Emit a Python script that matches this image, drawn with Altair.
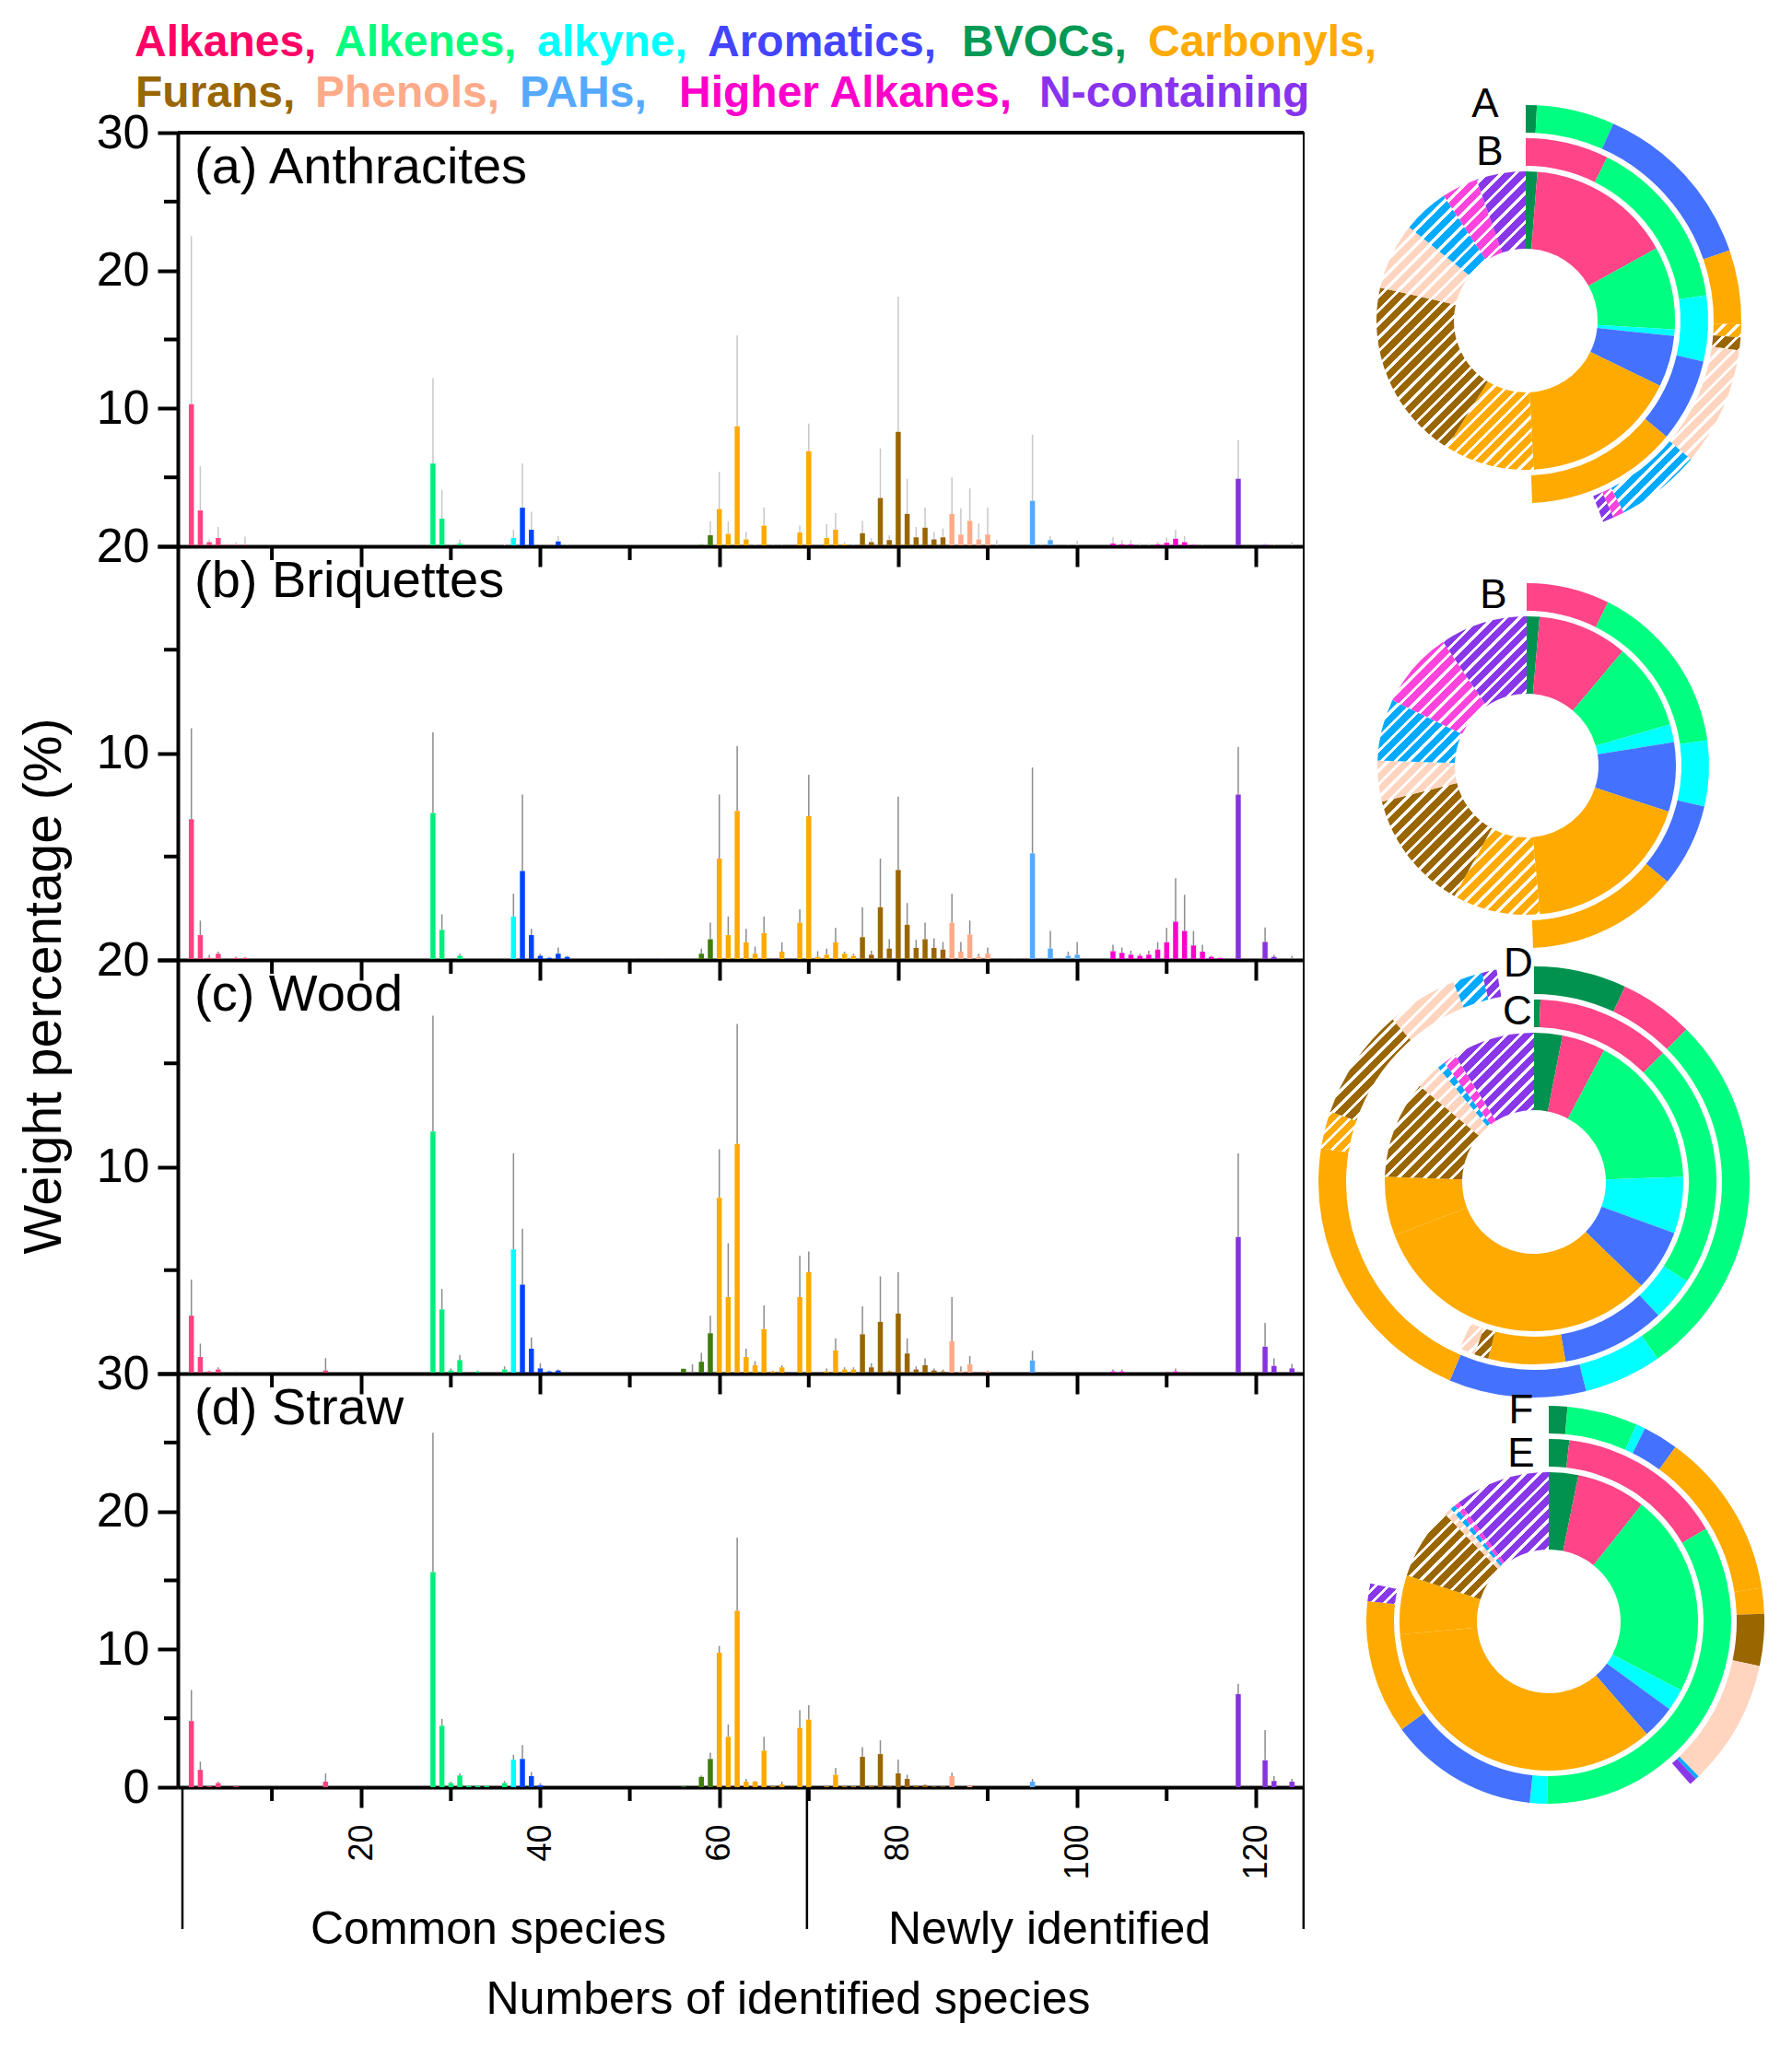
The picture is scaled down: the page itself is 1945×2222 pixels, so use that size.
import math

import altair as alt
import pandas as pd

# ---- compound classes -------------------------------------------------------
CATS = ["Alkanes", "Alkenes", "alkyne", "Aromatics", "BVOCs", "Carbonyls",
        "Furans", "Phenols", "PAHs", "Higher Alkanes", "N-containing"]
CAT_FIRST = [1, 28, 37, 38, 56, 60, 76, 86, 94, 104, 118]   # first species no. of each class
BAR_COLORS = ["#FF4282", "#00EE7A", "#00FFFF", "#0044FF", "#3E7D0E", "#FFAA00",
              "#996600", "#FFAA88", "#55AAFF", "#FF00CC", "#8833DD"]
PIE_COLORS = ["#FF4488", "#00FF80", "#00FFFF", "#4472FF", "#00924E", "#FFAA00",
              "#996600", "#FFD5C0", "#00AAFF", "#FF44DD", "#8838E8"]
KEY_WORDS = ["Alkanes,", "Alkenes,", "alkyne,", "Aromatics,", "BVOCs,", "Carbonyls,",
             "Furans,", "Phenols,", "PAHs,", "Higher Alkanes,", "N-containing"]
KEY_COLORS = ["#FF0066", "#00FF80", "#00FFFF", "#4444FF", "#009955", "#FFAA00",
              "#996600", "#FFAA88", "#55AAFF", "#FF00CC", "#8833EE"]
SECTIONS = [0, 69.8, 125.3]
SECTION_NAMES = ["Common species", "Newly identified"]
SECTION_LABEL_AT = [34.2, 96.9]

# ---- weight percentage per species: number, mean, sd -------------------------
A_IDX = [1, 2, 3, 4, 5, 6, 7,
         28, 29, 30, 31, 36, 37, 38, 39, 42, 43,
         58, 59, 60, 61, 62, 63, 64, 65, 66, 67, 69, 70, 72, 73, 74, 75,
         76, 77, 78, 79, 80, 81, 82, 83, 84, 85,
         86, 87, 88, 89, 90, 91,
         94, 95, 96, 97, 99, 100,
         104, 105, 106, 107, 108, 109, 110, 111, 112, 113, 114,
         118, 121, 122, 124]
A_MEAN = [10.3, 2.6, 0.3, 0.6, 0.1, 0.1, 0.1,
          6.0, 2.0, 0.05, 0.2, 0.05, 0.6, 2.8, 1.2, 0.35, 0.05,
          0.1, 0.8, 2.7, 0.9, 8.7, 0.5, 0.05, 1.5, 0.05, 0.05, 1.0, 6.9, 0.6, 1.2, 0.15, 0.05,
          0.95, 0.3, 3.5, 0.45, 8.3, 2.35, 0.65, 1.35, 0.5, 0.65,
          2.35, 0.85, 1.85, 0.5, 0.85, 0.02,
          0.05, 3.3, 0.02, 0.45, 0.02, 0.05,
          0.2, 0.15, 0.15, 0.05, 0.05, 0.15, 0.25, 0.55, 0.3, 0.1, 0.02,
          4.9, 0.1, 0.02, 0.02]
A_SD = [12.2, 3.2, 0.2, 0.8, 0.1, 0.2, 0.6,
        6.2, 2.1, 0.05, 0.3, 0.1, 0.6, 3.2, 1.3, 0.4, 0.05,
        0.1, 1.0, 2.7, 0.9, 6.6, 0.56, 0.1, 1.3, 0.05, 0.05, 0.5, 2.0, 1.0, 1.2, 0.15, 0.05,
        0.9, 0.3, 3.6, 0.35, 9.8, 2.55, 0.75, 1.45, 0.56, 0.65,
        2.65, 1.9, 2.35, 1.15, 1.95, 0.43,
        0.0, 4.8, 0.18, 0.3, 0.08, 0.35,
        0.45, 0.3, 0.3, 0.15, 0.15, 0.15, 0.4, 0.65, 0.45, 0.1, 0.08,
        2.8, 0.1, 0.08, 0.28]

B_IDX = [1, 2, 3, 4, 6, 7,
         28, 29, 31, 36, 37, 38, 39, 40, 41, 42, 43, 51, 53,
         58, 59, 60, 61, 62, 63, 64, 65, 66, 67, 69, 70, 71, 72, 73, 74, 75,
         76, 77, 78, 79, 80, 81, 82, 83, 84, 85,
         86, 87, 88, 89, 90, 91, 93,
         95, 96, 97, 99, 100,
         104, 105, 106, 107, 108, 109, 110, 111, 112, 113, 114, 115, 116, 117,
         118, 121, 122, 124]
B_MEAN = [6.8, 1.2, 0.1, 0.3, 0.1, 0.1,
          7.1, 1.45, 0.2, 0.05, 2.1, 4.3, 1.2, 0.2, 0.1, 0.3, 0.15, 0.05, 0.05,
          0.3, 1.0, 4.9, 1.2, 7.2, 0.85, 0.3, 1.3, 0.05, 0.4, 1.8, 6.95, 0.15, 0.25, 0.85, 0.3, 0.2,
          1.1, 0.25, 2.55, 0.55, 4.35, 1.7, 0.58, 1.0, 0.58, 0.5,
          1.8, 0.4, 1.23, 0.15, 0.3, 0.05, 0.05,
          5.15, 0.05, 0.55, 0.2, 0.25,
          0.42, 0.34, 0.25, 0.2, 0.25, 0.5, 0.85, 1.85, 1.4, 0.7, 0.4, 0.15, 0.1, 0.05,
          8.0, 0.87, 0.15, 0.05]
B_SD = [4.4, 0.7, 0.15, 0.1, 0.05, 0.05,
        3.9, 0.75, 0.1, 0.05, 1.1, 3.7, 0.3, 0.1, 0.05, 0.3, 0.05, 0.0, 0.0,
        0.25, 0.8, 3.1, 0.9, 3.15, 0.65, 0.35, 0.8, 0.0, 0.45, 0.65, 2.0, 0.27, 0.3, 0.7, 0.1, 0.1,
        1.45, 0.2, 2.35, 0.45, 3.55, 1.05, 0.39, 0.8, 0.47, 0.37,
        1.4, 0.47, 0.67, 0.15, 0.3, 0.0, 0.0,
        4.15, 0.05, 0.85, 0.2, 0.62,
        0.31, 0.26, 0.2, 0.1, 0.2, 0.37, 0.7, 2.1, 1.75, 0.7, 0.33, 0.05, 0.0, 0.0,
        2.3, 0.7, 0.1, 0.15]

C_IDX = [1, 2, 3, 4, 6, 16,
         28, 29, 30, 31, 32, 33, 34, 36, 37, 38, 39, 40, 41, 42,
         56, 57, 58, 59, 60, 61, 62, 63, 64, 65, 66, 67, 69, 70, 72, 73, 74, 75,
         76, 77, 78, 79, 80, 81, 82, 83, 84, 85,
         86, 87, 88, 89, 90,
         95, 97,
         104, 105, 110, 111, 112,
         118, 121, 122, 124]
C_MEAN = [2.8, 0.8, 0.1, 0.2, 0.05, 0.15,
          11.7, 3.1, 0.15, 0.65, 0.05, 0.1, 0.05, 0.2, 6.0, 4.3, 1.2, 0.25, 0.1, 0.15,
          0.23, 0.02, 0.57, 1.95, 8.5, 3.7, 11.1, 0.8, 0.4, 2.15, 0.1, 0.3, 3.7, 4.9, 0.1, 1.12, 0.2, 0.2,
          1.9, 0.3, 2.5, 0.1, 2.9, 0.97, 0.2, 0.4, 0.15, 0.1,
          1.57, 0.1, 0.45, 0.05, 0.1,
          0.63, 0.05,
          0.1, 0.1, 0.05, 0.1, 0.05,
          6.6, 1.3, 0.37, 0.25]
C_SD = [1.75, 0.65, 0.05, 0.1, 0.05, 0.6,
        5.6, 1.0, 0.1, 0.25, 0.0, 0.05, 0.0, 0.15, 4.65, 2.7, 0.55, 0.25, 0.05, 0.05,
        0.02, 0.43, 0.43, 0.85, 2.35, 2.6, 5.8, 0.4, 0.2, 1.15, 0.05, 0.1, 2.0, 1.0, 0.15, 0.58, 0.1, 0.1,
        1.35, 0.2, 2.2, 0.05, 2.0, 0.73, 0.15, 0.33, 0.1, 0.1,
        2.13, 0.25, 0.4, 0.0, 0.05,
        0.47, 0.05,
        0.1, 0.1, 0.05, 0.15, 0.05,
        4.05, 1.15, 0.36, 0.22]

D_IDX = [1, 2, 3, 4, 6, 16,
         28, 29, 30, 31, 32, 33, 34, 36, 37, 38, 39, 40,
         56, 58, 59, 60, 61, 62, 63, 64, 65, 66, 67, 69, 70, 72, 73, 74, 75,
         76, 77, 78, 79, 80, 81, 82, 83, 84, 85,
         86, 88,
         95,
         118, 121, 122, 124]
D_MEAN = [4.8, 1.26, 0.05, 0.3, 0.05, 0.4,
          15.6, 4.45, 0.3, 0.85, 0.1, 0.1, 0.1, 0.3, 2.0, 2.05, 0.8, 0.15,
          0.05, 0.75, 2.05, 9.75, 3.65, 12.8, 0.4, 0.4, 2.65, 0.05, 0.2, 4.3, 4.9, 0.05, 0.9, 0.05, 0.05,
          2.2, 0.1, 2.4, 0.05, 1.0, 0.6, 0.1, 0.15, 0.05, 0.05,
          0.8, 0.1,
          0.4,
          6.75, 1.95, 0.45, 0.4]
D_SD = [2.25, 0.59, 0.0, 0.1, 0.0, 0.6,
        10.1, 0.5, 0.1, 0.15, 0.0, 0.0, 0.0, 0.15, 0.35, 1.0, 0.3, 0.15,
        0.0, 0.1, 0.45, 0.5, 0.9, 5.3, 0.2, 0.05, 1.0, 0.0, 0.2, 1.3, 1.05, 0.0, 0.5, 0.0, 0.0,
        0.7, 0.0, 1.0, 0.0, 1.0, 0.3, 0.0, 0.05, 0.0, 0.0,
        0.25, 0.05,
        0.2,
        0.75, 2.2, 0.35, 0.2]

# ---- ring compositions (% of full circle), "new" = newly identified part ----
PA_CATS = ["BVOCs", "Alkanes", "Alkenes", "alkyne", "Aromatics", "Carbonyls", "Carbonyls",
           "Furans", "Phenols", "PAHs", "Higher Alkanes", "N-containing"]
PA_PCT = [1.25, 15.7, 9.0, 0.7, 5.55, 16.95, 9.7, 19.7, 7.2, 5.0, 3.9, 5.35]
PA_NEW = [0, 0, 0, 0, 0, 0, 1, 1, 1, 1, 1, 1]
RA_CATS = ["BVOCs", "Alkenes", "Aromatics", "Carbonyls", "Carbonyls", "Furans", "Phenols",
           "PAHs", "Higher Alkanes", "N-containing"]
RA_PCT = [0.83, 5.83, 13.06, 5.56, 0.97, 0.97, 8.89, 6.39, 0.83, 0.83]
RA_NEW = [0, 0, 0, 0, 1, 1, 1, 1, 1, 1]
RB_CATS = ["Alkanes", "Alkenes", "alkyne", "Aromatics", "Carbonyls"]
RB_PCT = [7.36, 15.42, 5.83, 7.36, 13.47]
RB_NEW = [0, 0, 0, 0, 0]
PB_CATS = PA_CATS
PB_PCT = [1.39, 9.72, 9.44, 1.94, 7.5, 18.61, 9.44, 13.06, 4.44, 6.67, 8.33, 9.46]
PB_NEW = PA_NEW
PC_CATS = PA_CATS
PC_PCT = [3.06, 4.72, 16.67, 6.11, 6.67, 31.94, 6.39, 10.56, 2.78, 0.83, 1.39, 8.88]
PC_NEW = [0, 0, 0, 0, 0, 0, 0, 1, 1, 1, 1, 1]
RC_CATS = ["BVOCs", "Alkanes", "Alkenes", "alkyne", "Aromatics", "Carbonyls", "Furans", "Phenols"]
RC_PCT = [0.56, 11.94, 21.67, 3.89, 9.17, 6.81, 1.25, 1.39]
RC_NEW = [0, 0, 0, 0, 0, 0, 1, 1]
RD_CATS = ["BVOCs", "Alkanes", "Alkenes", "alkyne", "Aromatics", "Carbonyls", "Carbonyls",
           "Furans", "Phenols", "PAHs", "N-containing"]
RD_PCT = [6.94, 5.56, 27.78, 5.83, 10.28, 21.11, 2.78, 8.33, 5.28, 2.22, 1.11]
RD_NEW = [0, 0, 0, 0, 0, 0, 1, 1, 1, 1, 1]
PD_CATS = PA_CATS
PD_PCT = [3.19, 7.5, 21.94, 2.36, 3.61, 35.0, 6.39, 7.78, 0.83, 0.56, 0.56, 10.28]
PD_NEW = PC_NEW
RE_CATS = ["BVOCs", "Alkanes", "Alkenes", "alkyne", "Aromatics", "Carbonyls", "N-containing"]
RE_PCT = [1.81, 14.72, 33.61, 1.53, 13.25, 11.86, 1.56]
RE_NEW = [0, 0, 0, 0, 0, 0, 1]
RF_CATS = ["BVOCs", "Alkenes", "alkyne", "Aromatics", "Carbonyls", "Carbonyls", "Furans",
           "Phenols", "PAHs", "N-containing"]
RF_PCT = [1.39, 5.28, 0.69, 2.64, 12.5, 1.94, 3.89, 9.44, 0.28, 0.56]
RF_NEW = [0] * 10

# ---- layout -------------------------------------------------------------------
W, H = 1222, 449
X_MAX = 124.8
FONT = "Liberation Sans"
R_IN, R_MID, R_OUT = (78, 162), (168, 198), (204, 234)
KEY_POS = [(-47, -83), (170, -83), (390, -83), (575, -83), (851, -83), (1053, -83),
           (-46, -28), (149, -28), (371, -28), (544, -28), (935, -28)]

THETA = alt.Scale(domain=[0, 100], range=[0, 2 * math.pi])
PIE_SCALE = alt.Scale(domain=CATS, range=PIE_COLORS)
BAR_SCALE = alt.Scale(domain=CATS, range=BAR_COLORS)
XSCALE = alt.Scale(domain=[0, X_MAX], nice=False, zero=False)


def cat_of(i):
    k = 0
    for j, first in enumerate(CAT_FIRST):
        if i >= first:
            k = j
    return CATS[k]


def ring_rows(cats, pct, new):
    rows, t = [], 0.0
    for c, p, n in zip(cats, pct, new):
        rows.append({"cat": c, "t0": t, "t1": t + p, "new": n})
        t += p
    return rows


def arc_box(t0, t1, r0, r1):
    """Pixel bounding box of an annular sector (for the hatch gradient)."""
    a0, a1 = t0 / 50 * math.pi, t1 / 50 * math.pi
    xs, ys = [], []
    for k in range(181):
        a = a0 + (a1 - a0) * k / 180
        for r in (r0, r1):
            xs.append(r * math.sin(a))
            ys.append(-r * math.cos(a))
    return max(max(xs) - min(xs), 1.0), max(max(ys) - min(ys), 1.0)


def hatch(color, w, h, period=10.6, gap=0.3):
    """Diagonal white stripes as a hard-stop linear gradient."""
    n = max(1, round((w + h) / (math.sqrt(2) * period)))
    k = (w + h) / (w * w + h * h)
    stops = []
    for j in range(n):
        a, b, c = j / n, (j + 1 - gap) / n, (j + 1) / n
        stops += [{"offset": round(a, 5), "color": color}, {"offset": round(b, 5), "color": color},
                  {"offset": round(b, 5), "color": "#ffffff"}, {"offset": round(c, 5), "color": "#ffffff"}]
    return {"gradient": "linear", "x1": 0, "y1": 0, "x2": w * k, "y2": h * k, "stops": stops}


def pie(rings, cx, cy, tags):
    layers = []
    for rows, (r0, r1) in rings:
        solid = pd.DataFrame([r for r in rows if not r["new"]])
        layers.append(alt.Chart(solid).mark_arc(radius=r1, radius2=r0).encode(
            theta=alt.Theta("t0:Q", scale=THETA, stack=False), theta2=alt.Theta2("t1"),
            fill=alt.Fill("cat:N", scale=PIE_SCALE, legend=None),
            x=alt.value(cx), y=alt.value(cy)))
        for r in rows:
            if not r["new"]:
                continue
            w, h = arc_box(r["t0"], r["t1"], r0, r1)
            color = PIE_COLORS[CATS.index(r["cat"])]
            layers.append(alt.Chart(pd.DataFrame([r])).mark_arc(
                radius=r1, radius2=r0, fill=hatch(color, w, h)).encode(
                theta=alt.Theta("t0:Q", scale=THETA, stack=False), theta2=alt.Theta2("t1"),
                x=alt.value(cx), y=alt.value(cy)))
    for text, dx, dy in tags:
        layers.append(alt.Chart(pd.DataFrame({"t": [text]})).mark_text(
            fontSize=44, font=FONT, color="black").encode(
            x=alt.value(cx + dx), y=alt.value(cy + dy), text="t:N"))
    return layers


def y_axis(ymax, show_zero, title=None):
    kw = dict(values=list(range(0, ymax + 1, 10)), tickSize=22, tickWidth=4, tickColor="black",
              domainWidth=4, domainColor="black", grid=False, labelFontSize=52, labelPadding=9,
              labelFont=FONT, labelColor="black", labelFlush=False, labelOverlap=False)
    if not show_zero:
        kw["labelExpr"] = "datum.value == 0 ? '' : datum.label"
    if title:
        kw.update(title=title, titleX=-145, titleY=477, titleAngle=270, titleAlign="center",
                  titleBaseline="middle", titleFontSize=57, titleFont=FONT,
                  titleFontWeight="normal", titleColor="black")
    else:
        kw["title"] = None
    return alt.Axis(**kw)


def x_axis(labels, title=None):
    kw = dict(values=list(range(20, 121, 20)), tickSize=22, tickWidth=4, tickColor="black",
              domainWidth=4, domainColor="black", grid=False, labels=labels, labelAngle=270,
              labelFontSize=36, labelPadding=18, labelFont=FONT, labelColor="black",
              labelFlush=False, labelOverlap=False)
    if title:
        kw.update(title=title, titleX=662, titleY=245, titleAlign="center",
                  titleBaseline="alphabetic", titleFontSize=50, titleFont=FONT,
                  titleFontWeight="normal", titleColor="black")
    else:
        kw["title"] = None
    return alt.Axis(**kw)


def panel(label, idx, mean, sd, ymax, err_color, rings, center, tags,
          first=False, last=False, ytitle=None):
    df = pd.DataFrame({"i": idx, "mean": mean,
                       "top": [m + s for m, s in zip(mean, sd)],
                       "cat": [cat_of(i) for i in idx]})
    yscale = alt.Scale(domain=[0, ymax], nice=False)
    yax = y_axis(ymax, last, ytitle)
    xax = x_axis(last, "Numbers of identified species" if last else None)
    X = alt.X("i:Q", scale=XSCALE, axis=xax)

    err = alt.Chart(df).mark_rule(color=err_color, strokeWidth=1.5).encode(
        x=X, y=alt.Y("mean:Q", scale=yscale, axis=yax), y2=alt.Y2("top"))
    bars = alt.Chart(df).mark_bar(size=5.5, orient="vertical").encode(
        x=X, y=alt.Y("mean:Q", scale=yscale, axis=yax),
        color=alt.Color("cat:N", scale=BAR_SCALE, legend=None))
    yminor = alt.Chart(pd.DataFrame({"v": list(range(5, ymax, 10))})).mark_rule(
        strokeWidth=4, color="black").encode(
        y=alt.Y("v:Q", scale=yscale, axis=yax), x=alt.value(-15), x2=alt.value(0))
    xminor = alt.Chart(pd.DataFrame({"v": list(range(10, 121, 20))})).mark_rule(
        strokeWidth=4, color="black").encode(
        x=alt.X("v:Q", scale=XSCALE, axis=xax), y=alt.value(H), y2=alt.value(H + 15))
    name = alt.Chart(pd.DataFrame({"t": [label]})).mark_text(
        align="left", baseline="alphabetic", fontSize=56, font=FONT, color="black").encode(
        x=alt.value(18), y=alt.value(55), text="t:N")

    layers = [err, bars, yminor, xminor, name] + pie(rings, center[0], center[1], tags)

    if first:
        layers.append(alt.Chart(pd.DataFrame({"v": [0]})).mark_rule(
            strokeWidth=4, color="black").encode(x=alt.value(0), x2=alt.value(W), y=alt.value(0)))
        for word, color, (px, py) in zip(KEY_WORDS, KEY_COLORS, KEY_POS):
            layers.append(alt.Chart(pd.DataFrame({"t": [word]})).mark_text(
                align="left", baseline="alphabetic", fontSize=48, fontWeight="bold",
                font=FONT, color=color).encode(x=alt.value(px), y=alt.value(py), text="t:N"))
    if last:
        layers.append(alt.Chart(pd.DataFrame({"v": SECTIONS})).mark_rule(
            strokeWidth=2.5, color="black").encode(
            x=alt.X("v:Q", scale=XSCALE, axis=xax), y=alt.value(H), y2=alt.value(H + 154)))
        layers.append(alt.Chart(pd.DataFrame({"v": SECTION_LABEL_AT, "t": SECTION_NAMES})).mark_text(
            baseline="alphabetic", fontSize=50, font=FONT, color="black").encode(
            x=alt.X("v:Q", scale=XSCALE, axis=xax), y=alt.value(H + 170), text="t:N"))

    return alt.layer(*layers).properties(width=W, height=H)


pa = panel("(a) Anthracites", A_IDX, A_MEAN, A_SD, 30, "#C8C8C8",
           [(ring_rows(PA_CATS, PA_PCT, PA_NEW), R_IN), (ring_rows(RB_CATS, RB_PCT, RB_NEW), R_MID),
            (ring_rows(RA_CATS, RA_PCT, RA_NEW), R_OUT)],
           (1463, 204), [("A", -44, -234), ("B", -39, -182)], first=True)
pb = panel("(b) Briquettes", B_IDX, B_MEAN, B_SD, 20, "#8C8C8C",
           [(ring_rows(PB_CATS, PB_PCT, PB_NEW), R_IN), (ring_rows(RB_CATS, RB_PCT, RB_NEW), R_MID)],
           (1464, 238), [("B", -36, -184)], ytitle="Weight percentage (%)")
pc = panel("(c) Wood", C_IDX, C_MEAN, C_SD, 20, "#8C8C8C",
           [(ring_rows(PC_CATS, PC_PCT, PC_NEW), R_IN), (ring_rows(RC_CATS, RC_PCT, RC_NEW), R_MID),
            (ring_rows(RD_CATS, RD_PCT, RD_NEW), R_OUT)],
           (1472, 241), [("D", -17, -236), ("C", -18, -184)])
pd_ = panel("(d) Straw", D_IDX, D_MEAN, D_SD, 30, "#8C8C8C",
            [(ring_rows(PD_CATS, PD_PCT, PD_NEW), R_IN), (ring_rows(RE_CATS, RE_PCT, RE_NEW), R_MID),
             (ring_rows(RF_CATS, RF_PCT, RF_NEW), R_OUT)],
            (1488, 269), [("F", -30, -228), ("E", -30, -181)], last=True)

chart = (alt.vconcat(pa, pb, pc, pd_, spacing=0, bounds="flush")
         .resolve_scale(y="independent")
         .properties(padding={"left": 10, "top": 14, "right": 5, "bottom": 5},
                     background="white")
         .configure_view(stroke="black", strokeWidth=2)
         .configure_text(font=FONT))

chart.save("out.html", embed_options={"renderer": "svg", "actions": False})
